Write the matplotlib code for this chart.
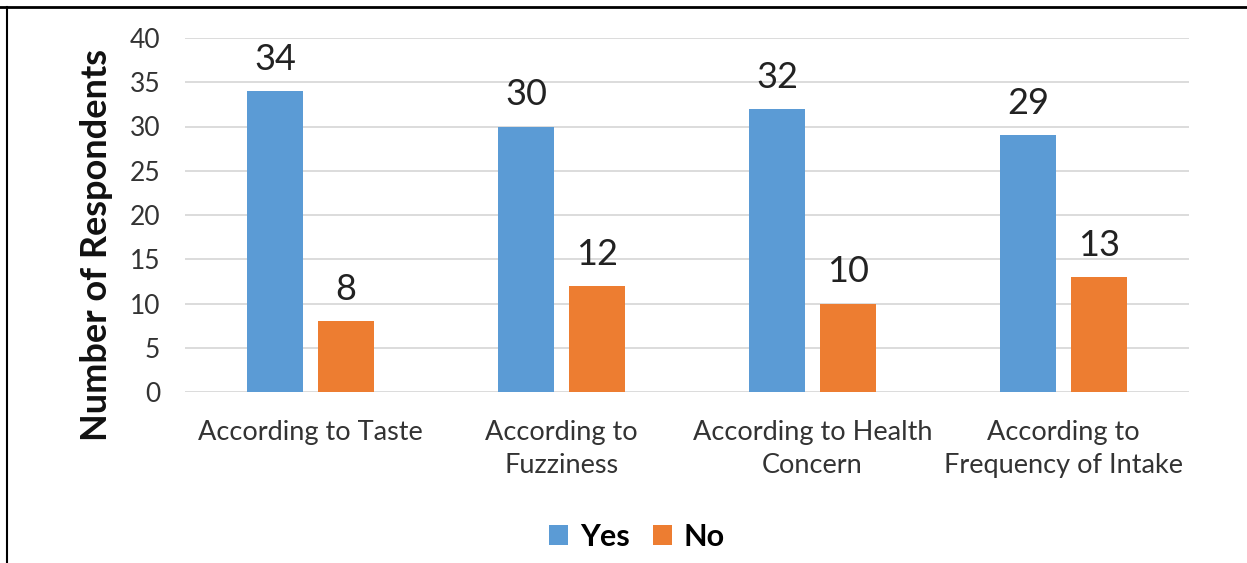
import matplotlib
matplotlib.use("Agg")
import matplotlib.pyplot as plt
from matplotlib.lines import Line2D
import numpy as np

categories = ["According to Taste", "According to\nFuzziness",
              "According to Health\nConcern", "According to\nFrequency of Intake"]
yes_values = [34, 30, 32, 29]
no_values = [8, 12, 10, 13]
series_names = ["Yes", "No"]
y_ticks = [0, 5, 10, 15, 20, 25, 30, 35, 40]

BLUE = "#5B9BD5"
ORANGE = "#ED7D31"
FONT = ["Lato", "DejaVu Sans"]
plt.rcParams["font.family"] = FONT

fig = plt.figure(figsize=(12.47, 5.63), dpi=100)
ax = fig.add_axes([185 / 1247, 1 - 392 / 563, 1004 / 1247, 354 / 563])

x = np.arange(len(categories))
width = 0.223
offset = 0.14
bars_yes = ax.bar(x - offset, yes_values, width, color=BLUE, label=series_names[0], zorder=3)
bars_no = ax.bar(x + offset, no_values, width, color=ORANGE, label=series_names[1], zorder=3)

for bars in (bars_yes, bars_no):
    for b in bars:
        ax.annotate(f"{b.get_height():g}", (b.get_x() + b.get_width() / 2, b.get_height()),
                    xytext=(0, 11), textcoords="offset points", ha="center", va="bottom",
                    fontsize=26, color="#222222")

ax.set_xlim(-0.5, len(categories) - 0.5)
ax.set_ylim(0, 40)
ax.set_yticks(y_ticks)
ax.set_xticks(x)
ax.set_xticklabels(categories, fontsize=19.5, color="#333333", linespacing=1.42)
ax.tick_params(axis="y", labelsize=19, labelcolor="#333333", length=0, pad=18)
ax.tick_params(axis="x", length=0, pad=20)
ax.yaxis.grid(True, color="#D9D9D9", linewidth=1.3, zorder=0)
for s in ax.spines.values():
    s.set_visible(False)
ax.set_ylabel("Number of Respondents", fontsize=26, fontweight="bold", color="#111111")
ax.yaxis.set_label_coords(-0.0717, 0.415)

fig.legend(handles=[bars_yes, bars_no], labels=series_names, loc="center",
           bbox_to_anchor=(637 / 1247, 1 - 537 / 563), ncol=2, frameon=False,
           prop={"family": FONT, "weight": "bold", "size": 22},
           handlelength=0.62, handleheight=0.62, handletextpad=0.4, columnspacing=0.75)

# frame edges along the top and left of the figure
fig.add_artist(Line2D([0, 1], [1 - 6.5 / 563] * 2, transform=fig.transFigure, color="black", linewidth=2))
fig.add_artist(Line2D([7 / 1247] * 2, [0, 1 - 6.5 / 563], transform=fig.transFigure, color="black", linewidth=1.5))

fig.savefig("out.png", dpi=100)
